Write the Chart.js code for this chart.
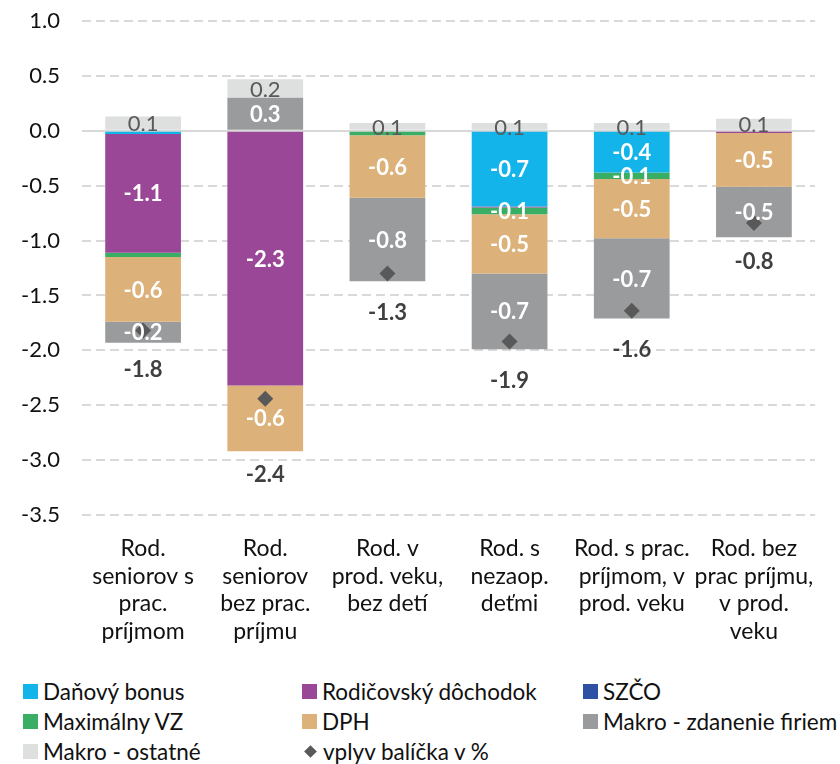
<!DOCTYPE html>
<html>
<head>
<meta charset="utf-8">
<script src="https://cdn.jsdelivr.net/npm/chart.js@4"></script>
<style>
    body { margin: 0; background: #fff; font-family: Lato, sans-serif; }
    #wrap { width: 840px; height: 764px; position: relative; }
    #chart { display: block; }
    #legend {
        display: grid;
        grid-template-columns: 279px 281px 257px;
        grid-auto-rows: 30px;
        padding-left: 23px;
        margin-top: 11px;
        font-size: 22.5px;
        color: #111;
    }
    .item { display: flex; align-items: center; white-space: nowrap; }
    .box { width: 15px; height: 15px; margin-right: 5px; flex: none; }
    .dia { width: 9px; height: 9px; margin: 0 8px 0 4px; transform: rotate(45deg); flex: none; }
</style>
</head>
<body>
<div id="wrap">
    <canvas id="chart" width="840" height="665"></canvas>
    <div id="legend"></div>
</div>
<script>
'use strict'

var categories = [
    ["Rod.", "seniorov s", "prac.", "príjmom"],
    ["Rod.", "seniorov", "bez prac.", "príjmu"],
    ["Rod. v", "prod. veku,", "bez detí"],
    ["Rod. s", "nezaop.", "deťmi"],
    ["Rod. s prac.", "príjmom, v", "prod. veku"],
    ["Rod. bez", "prac príjmu,", "v prod.", "veku"]
];

var danovyBonus  = [-0.03,  0.00,  0.00, -0.69, -0.38,  0.00];
var rodicovsky   = [-1.08, -2.32,  0.00, -0.01,  0.00, -0.02];
var szco         = [ 0.01,  0.00,  0.00,  0.00,  0.00,  0.00];
var maxVZ        = [-0.04,  0.00, -0.04, -0.06, -0.06,  0.00];
var dph          = [-0.59, -0.60, -0.57, -0.54, -0.54, -0.49];
var makroFiriem  = [-0.19,  0.30, -0.76, -0.69, -0.73, -0.46];
var makroOstatne = [ 0.12,  0.17,  0.07,  0.07,  0.07,  0.11];
var vplyvBalicka = [-1.82, -2.44, -1.30, -1.92, -1.64, -0.84];

var yTicks = { min: -3.5, max: 1.0, step: 0.5 };

var fontFamily = "Lato, 'Open Sans', sans-serif";

function barSet(label, data, color, textColor, bold) {
    return {
        type: 'bar',
        label: label,
        data: data,
        backgroundColor: color,
        borderWidth: 0,
        stack: 'balicek',
        order: 1,
        barPercentage: 0.62,
        categoryPercentage: 1.0,
        labelColor: textColor,
        labelBold: bold
    };
}

var datasets = [
    barSet("Daňový bonus", danovyBonus, '#13B4E9', '#fff', true),
    barSet("Rodičovský dôchodok", rodicovsky, '#9B4797', '#fff', true),
    barSet("SZČO", szco, '#2F51A3', '#fff', true),
    barSet("Maximálny VZ", maxVZ, '#3AAE64', '#fff', true),
    barSet("DPH", dph, '#DDB27A', '#fff', true),
    barSet("Makro - zdanenie firiem", makroFiriem, '#9A9B9D', '#fff', true),
    barSet("Makro - ostatné", makroOstatne, '#DEDFDF', '#595959', false),
    {
        type: 'line',
        label: "vplyv balíčka v %",
        data: vplyvBalicka,
        showLine: false,
        stack: 'vplyv',
        order: 0,
        pointStyle: 'rectRot',
        pointRadius: 8,
        pointHoverRadius: 8,
        backgroundColor: '#595959',
        borderColor: '#595959',
        borderWidth: 0
    }
];

// popisky segmentov a suma pod stlpcom
var labelsPlugin = {
    id: 'segmentLabels',
    afterDatasetsDraw: function (chart) {
        var ctx = chart.ctx;
        var bottoms = [];
        ctx.save();
        ctx.textAlign = 'center';
        ctx.textBaseline = 'middle';
        chart.data.datasets.forEach(function (ds, di) {
            var meta = chart.getDatasetMeta(di);
            if (ds.type !== 'bar') return;
            meta.data.forEach(function (el, i) {
                var v = ds.data[i];
                var low = Math.max(el.y, el.base);
                bottoms[i] = Math.max(bottoms[i] || 0, low);
                if (Math.abs(v) < 0.05) return;
                ctx.fillStyle = ds.labelColor;
                ctx.font = (ds.labelBold ? 'bold ' : '') + '22px ' + fontFamily;
                ctx.fillText(v.toFixed(1), el.x, (el.y + el.base) / 2 + 1);
            });
        });
        var lineIdx = chart.data.datasets.length - 1;
        var pts = chart.getDatasetMeta(lineIdx).data;
        ctx.fillStyle = '#404040';
        ctx.font = 'bold 22px ' + fontFamily;
        pts.forEach(function (p, i) {
            var y = Math.max(p.y + 39, bottoms[i] + 24);
            ctx.fillText(vplyvBalicka[i].toFixed(1), p.x, y);
        });
        ctx.restore();
    }
};

var chartConfig = {
    data: {
        labels: categories,
        datasets: datasets
    },
    options: {
        responsive: false,
        animation: false,
        layout: {
            padding: { top: 21, right: 25, bottom: 5, left: 0 }
        },
        plugins: {
            legend: { display: false },
            tooltip: { enabled: false }
        },
        scales: {
            x: {
                stacked: true,
                grid: { display: false },
                border: { display: false },
                ticks: {
                    color: '#111',
                    padding: 12,
                    maxRotation: 0,
                    autoSkip: false,
                    font: { family: fontFamily, size: 23, lineHeight: 1.2 }
                },
                afterFit: function (scale) { scale.height = 145; }
            },
            y: {
                stacked: true,
                min: yTicks.min,
                max: yTicks.max,
                grid: {
                    color: '#D9D9D9',
                    lineWidth: 2,
                    drawTicks: false
                },
                border: {
                    display: false,
                    dash: function (c) { return (c.tick && c.tick.value === 0) ? [] : [9, 5]; }
                },
                ticks: {
                    stepSize: yTicks.step,
                    color: '#111',
                    padding: 22,
                    font: { family: fontFamily, size: 22 },
                    callback: function (v) { return Number(v).toFixed(1); }
                },
                afterFit: function (scale) {
                    scale.width = 82;
                    scale.paddingTop = 0;
                    scale.paddingBottom = 0;
                }
            }
        }
    },
    plugins: [labelsPlugin]
};

var chart = new Chart(document.getElementById('chart'), chartConfig);

// legenda v troch stlpcoch
var legendEl = document.getElementById('legend');
chart.data.datasets.forEach(function (ds) {
    var item = document.createElement('div');
    item.className = 'item';
    var mark = document.createElement('span');
    mark.className = ds.type === 'line' ? 'dia' : 'box';
    mark.style.background = ds.backgroundColor;
    var txt = document.createElement('span');
    txt.textContent = ds.label;
    item.appendChild(mark);
    item.appendChild(txt);
    legendEl.appendChild(item);
});
</script>
</body>
</html>
